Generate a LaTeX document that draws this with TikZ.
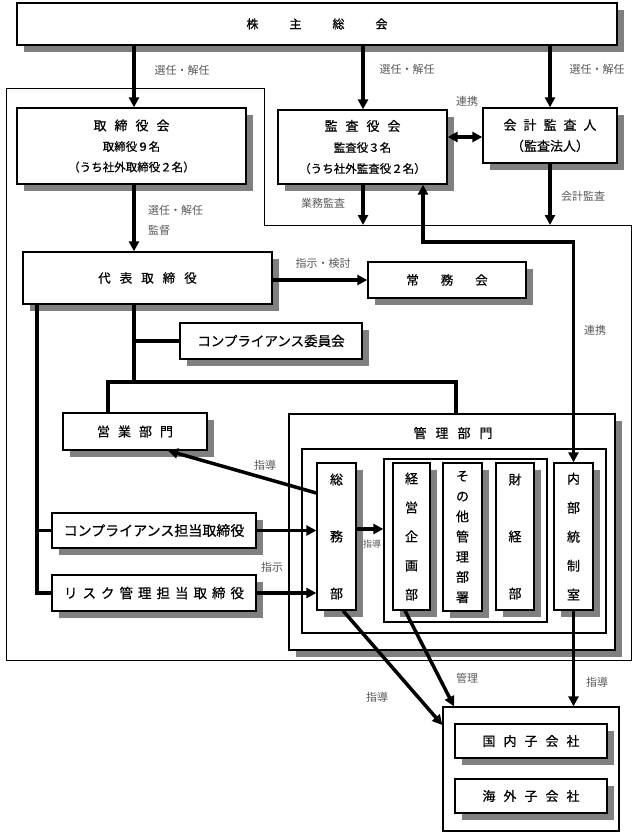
\documentclass[tikz,border=0pt]{standalone}
\usepackage{fontspec}
\setmainfont[FakeBold=0.6]{Noto Sans CJK JP}
\newfontfamily\lblfont{Noto Sans CJK JP}
\usetikzlibrary{arrows.meta,shadows}
\begin{document}
\begin{tikzpicture}[x=1pt,y=-1pt,
  box/.style={draw, line width=1.3pt, fill=white, inner sep=0pt,
    drop shadow={shadow xshift=7pt,shadow yshift=-7pt,fill=black!50,opacity=1}},
  plainbox/.style={draw, line width=1.3pt, inner sep=0pt},
  thk/.style={line width=3.5pt},
  arr/.style={line width=3.5pt, -{Triangle[length=10pt,width=10pt]}},
  darr/.style={line width=3.5pt, {Triangle[length=10pt,width=10pt]}-{Triangle[length=10pt,width=10pt]}},
  lbl/.style={font=\lblfont\fontsize{11}{11}\selectfont, text=black!65, inner sep=0pt},
  fa/.style={font=\fontsize{13}{13}\selectfont},
  fb/.style={font=\fontsize{12.5}{12.5}\selectfont},
]
\useasboundingbox (0,0) rectangle (639,840);

% board frame
\draw[line width=1pt] (6,89) -- (264,89) -- (264,225) -- (631,225) -- (631,660) -- (6,660) -- cycle;

% boxes
\node[box, minimum width=600pt, minimum height=42pt, font=\fontsize{12}{12}\selectfont] (top) at (317,24)
  {株\hspace{31pt}主\hspace{31pt}総\hspace{31pt}会};
\node[box, minimum width=229pt, minimum height=76pt, align=center, font=\fontsize{11.5}{20.5}\selectfont] (tori) at (131.5,146)
  {{\fontsize{13}{20.5}\selectfont 取\hspace{8pt}締\hspace{8pt}役\hspace{8pt}会}\\取締役９名\\（うち社外取締役２名）};
\node[box, minimum width=169pt, minimum height=74pt, align=center, font=\fontsize{11.5}{21}\selectfont] (kansa) at (362.5,147)
  {{\fontsize{13}{21}\selectfont 監\hspace{8pt}査\hspace{8pt}役\hspace{8pt}会}\\監査役３名\\（うち社外監査役２名）};
\node[box, minimum width=134pt, minimum height=55pt, align=center, font=\fontsize{13}{21}\selectfont] (kaikei) at (550,135.5)
  {会\hspace{7pt}計\hspace{7pt}監\hspace{7pt}査\hspace{7pt}人\\（監査法人）};
\node[box, minimum width=249pt, minimum height=52pt, fb] (daihyo) at (147.5,278)
  {代\hspace{9pt}表\hspace{9pt}取\hspace{9pt}締\hspace{9pt}役};
\node[box, minimum width=158pt, minimum height=36pt, fb] (jomu) at (447,280)
  {常\hspace{22pt}務\hspace{22pt}会};
\node[box, minimum width=182pt, minimum height=36pt, font=\fontsize{13.5}{13.5}\selectfont] (compc) at (271,341)
  {コンプライアンス委員会};
\node[box, minimum width=144pt, minimum height=37pt, fa] (eigyo) at (135,431.5)
  {営\hspace{8pt}業\hspace{8pt}部\hspace{8pt}門};
\node[box, minimum width=204pt, minimum height=35pt, font=\fontsize{14}{14}\selectfont] (comp) at (154,530.5)
  {コンプライアンス担当取締役};
\node[box, minimum width=204pt, minimum height=36pt, font=\fontsize{13.5}{13.5}\selectfont] (risk) at (154,593)
  {リ\hspace{5pt}ス\hspace{5pt}ク\hspace{5pt}管\hspace{5pt}理\hspace{5pt}担\hspace{5pt}当\hspace{5pt}取\hspace{5pt}締\hspace{5pt}役};

% management division
\node[box, minimum width=326pt, minimum height=236pt] (kanri) at (452,532) {};
\node[fa, inner sep=0pt] (kanrit) at (453,433) {管\hspace{9pt}理\hspace{9pt}部\hspace{9pt}門};
\node[plainbox, minimum width=304pt, minimum height=184pt] (kin) at (454,541) {};
\node[plainbox, minimum width=163pt, minimum height=163pt] (grp) at (465.5,540.5) {};
\node[box, minimum width=39pt, minimum height=147pt, align=center, font=\fontsize{13}{57}\selectfont] (soumu) at (336.5,536.5)
  {総\\務\\部};
\node[box, minimum width=37pt, minimum height=147pt, align=center, font=\fontsize{13}{29}\selectfont] (keiei) at (411.5,536.5)
  {経\\営\\企\\画\\部};
\node[box, minimum width=39pt, minimum height=148pt, align=center, font=\fontsize{13}{20.2}\selectfont] (sonota) at (462.5,537)
  {そ\\の\\他\\管\\理\\部\\署};
\node[box, minimum width=38pt, minimum height=147pt, align=center, font=\fontsize{13}{57}\selectfont] (zaikei) at (515,536.5)
  {財\\経\\部};
\node[box, minimum width=39pt, minimum height=147pt, align=center, font=\fontsize{13}{29}\selectfont] (naibu) at (573.5,536.5)
  {内\\部\\統\\制\\室};

% subsidiaries
\node[plainbox, minimum width=176pt, minimum height=124pt] (ko) at (531,769) {};
\node[box, minimum width=152pt, minimum height=34pt, fa] (kokunai) at (531,741)
  {国\hspace{8pt}内\hspace{8pt}子\hspace{8pt}会\hspace{8pt}社};
\node[box, minimum width=152pt, minimum height=34pt, fa] (kaigai) at (531,796)
  {海\hspace{8pt}外\hspace{8pt}子\hspace{8pt}会\hspace{8pt}社};

% helper coordinates
\coordinate (x134) at (134,0);
\coordinate (x37) at (37,0);
\coordinate (j1) at (108,382);
\coordinate (j2) at (456,382);
\coordinate (y137) at (0,137);
\coordinate (fra) at (363,225);
\coordinate (frb) at (550,225);
\coordinate (r1) at (423,242);
\coordinate (y529) at (0,529);
\coordinate (s1) at (317,493);
\coordinate (e1) at (168,451);
\coordinate (b1) at (343,0);
\coordinate (b2) at (405,0);
\coordinate (k1) at (443,725);
\coordinate (k2) at (454,706);

% connectors
\draw[arr] (top.south -| x134) -- (tori.north -| x134);
\draw[arr] (top.south -| fra) -- (kansa.north -| fra);
\draw[arr] (top.south -| kaikei.north) -- (kaikei.north);
\draw[darr] (kansa.east |- y137) -- (kaikei.west |- y137);
\draw[arr] (kansa.south -| fra) -- (fra);
\draw[arr] (kaikei.south) -- (frb);
\draw[darr] (naibu.north) |- (r1) -- (r1 |- kansa.south);
\draw[arr] (tori.south -| x134) -- (daihyo.north -| x134);
\draw[arr] (daihyo.east |- jomu.west) -- (jomu.west);
\draw[thk] (daihyo.south -| x134) -- (j1 -| x134);
\draw[thk] (compc.west -| x134) -- (compc.west);
\draw[thk] (eigyo.north -| j1) -- (j1) -- (j2) -- (kanri.north -| j2);
\draw[thk] (daihyo.south -| x37) |- (risk.west);
\draw[thk] (comp.west -| x37) -- (comp.west);
\draw[arr] (comp.east) -- (comp.east -| soumu.west);
\draw[arr] (risk.east) -- (risk.east -| soumu.west);
\draw[arr] (soumu.east |- y529) -- (grp.west |- y529);
\draw[arr] (soumu.west |- s1) -- (eigyo.south -| e1);
\draw[arr] (soumu.south -| b1) -- (ko.west |- k1);
\draw[arr] (keiei.south -| b2) -- (ko.north -| k2);
\draw[arr] (naibu.south) -- (naibu.south |- ko.north);

% labels
\node[lbl] (l1) at (182,70) {選任・解任};
\node[lbl] (l2) at (407,69) {選任・解任};
\node[lbl] (l3) at (597,69) {選任・解任};
\node[lbl] (l4) at (467,101) {連携};
\node[lbl, anchor=west] (l5) at (148,210) {選任・解任};
\node[lbl, anchor=west] (l6) at (148,230) {監督};
\node[lbl] (l7) at (323,203) {業務監査};
\node[lbl] (l8) at (583,196) {会計監査};
\node[lbl] (l9) at (323,263) {指示・検討};
\node[lbl] (l10) at (595,330) {連携};
\node[lbl] (l11) at (265,465) {指導};
\node[lbl] (l12) at (272,567) {指示};
\node[lbl, font=\lblfont\fontsize{9}{9}\selectfont] (l13) at (372,544) {指導};
\node[lbl] (l14) at (377,697) {指導};
\node[lbl] (l15) at (467,678) {管理};
\node[lbl] (l16) at (597,682) {指導};
\end{tikzpicture}
\end{document}
